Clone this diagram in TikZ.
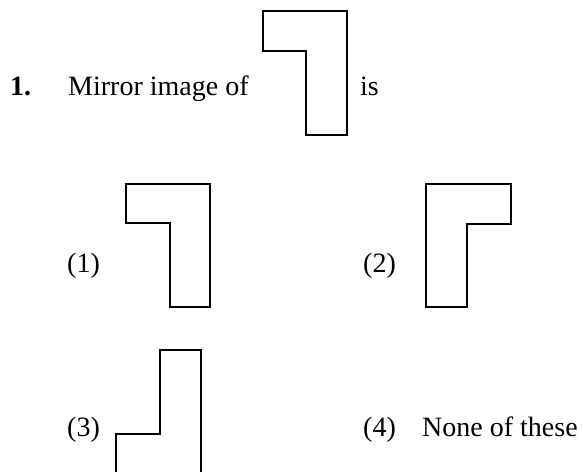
\documentclass[tikz,border=0pt]{standalone}
\usepackage{fontspec}
\setmainfont{Liberation Serif}
\usetikzlibrary{positioning}
\tikzset{
  txt/.style={anchor=base west, inner sep=0pt, font=\fontsize{28}{33}\selectfont},
  qnum/.style={txt, font=\fontsize{28}{33}\selectfont\bfseries},
  outline/.style={line width=2.2pt, black, line join=miter},
}
\begin{document}
\begin{tikzpicture}[x=1pt,y=-1pt]
 \useasboundingbox (0,0) rectangle (583,471);
 % question
 \node[qnum] (qn) at (10,95) {1.};
 \node[txt] (qtext) at (68,95) {Mirror image of};
 \draw[outline] (263,11) -- (347,11) -- (347,135) -- (306,135) -- (306,51) -- (263,51) -- cycle;
 \node[txt] (qis) at (360,95) {is};
 % options
 \node[txt] (opta) at (67,272) {(1)};
 \draw[outline] (126,184) -- (210,184) -- (210,307) -- (170,307) -- (170,223) -- (126,223) -- cycle;
 \node[txt] (optb) at (363,272) {(2)};
 \draw[outline] (426,184) -- (511,184) -- (511,224) -- (467,224) -- (467,307) -- (426,307) -- cycle;
 \node[txt] (optc) at (67,436) {(3)};
 \draw[outline] (116,476) -- (116,434) -- (160,434) -- (160,350) -- (201,350) -- (201,476);
 \node[txt] (optd) at (363,436) {(4)};
 \node[txt] (none) at (422,436) {None of these};
\end{tikzpicture}
\end{document}
